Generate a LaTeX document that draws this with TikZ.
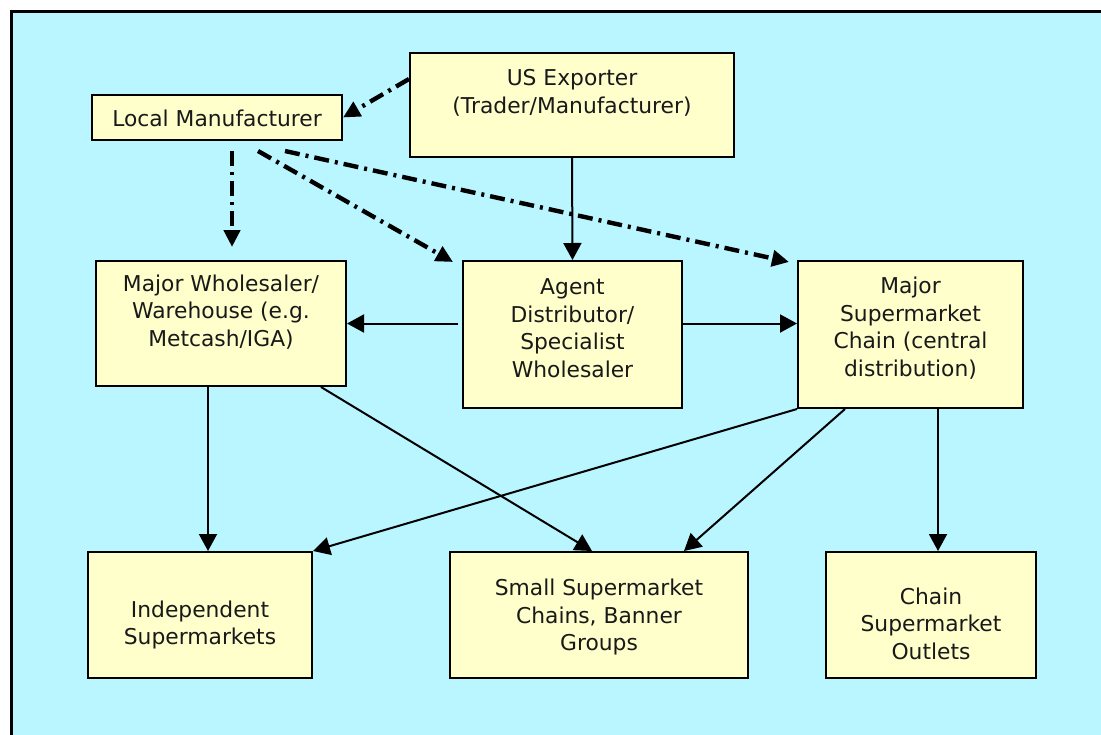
\documentclass[tikz,border=0pt]{standalone}
\usepackage{fontspec}
\setmainfont{DejaVu Sans}
\usetikzlibrary{arrows.meta}
\definecolor{bgcyan}{RGB}{186,246,255}
\definecolor{boxyellow}{RGB}{255,255,204}
\begin{document}
\begin{tikzpicture}[x=0.5pt,y=-0.5pt]

     \tikzstyle{box}=[rectangle,draw=black,line width=1pt,fill=boxyellow,inner sep=0pt]
     \tikzstyle{lbl}=[align=center,inner sep=0pt,text=black!90,font=\fontsize{10.9}{13.75}\selectfont]
     \tikzstyle{solidarrow}=[line width=1pt,-{Triangle[length=8.5pt,width=9pt]}]
     \tikzstyle{dasharrow}=[line width=2.2pt,dash pattern=on 7.5pt off 3pt on 1.5pt off 3pt,-{Triangle[length=8.5pt,width=8pt]}]

      \useasboundingbox (0,0) rectangle (1101,734);
      \clip (0,0) rectangle (1101,734);
      \filldraw[fill=bgcyan,draw=black,line width=1.5pt] (11,11) rectangle (1130,760);

      \begin{scope}
         \node[box,minimum width=162pt,minimum height=52pt] (exp) at (572,105) {};
         \node[box,minimum width=125pt,minimum height=22.5pt] (loc) at (217,117.5) {};

         \node[box,minimum width=125pt,minimum height=62.5pt] (whs) at (221,323.5) {};
         \node[box,minimum width=109.5pt,minimum height=73.5pt] (agt) at (572.5,334.5) {};
         \node[box,minimum width=112.5pt,minimum height=73.5pt] (chn) at (910.5,334.5) {};

         \node[box,minimum width=112pt,minimum height=63pt] (ind) at (200,615) {};
         \node[box,minimum width=149pt,minimum height=63pt] (sml) at (599,615) {};
         \node[box,minimum width=105pt,minimum height=63pt] (out) at (931,615) {};


         \node[lbl] (lexp) at (572,93) {US Exporter\\(Trader/Manufacturer)};
         \node[lbl] (lloc) at (217,118) {Local Manufacturer};
         \node[lbl] (lwhs) at (221,312) {Major Wholesaler/\\Warehouse (e.g.\\Metcash/IGA)};
         \node[lbl] (lagt) at (572.5,328) {Agent\\Distributor/\\Specialist\\Wholesaler};
         \node[lbl] (lchn) at (910.5,328) {Major\\Supermarket\\Chain (central\\distribution)};
         \node[lbl] (lind) at (200,625) {Independent\\Supermarkets};
         \node[lbl] (lsml) at (599,617) {Small Supermarket\\Chains, Banner\\Groups};
         \node[lbl] (lout) at (931,623.5) {Chain\\Supermarket\\Outlets};

         % dash-dot flows from the manufacturers
         \draw[dasharrow] ([yshift=-13.5pt]exp.north west) to (loc.east);
         \draw[dasharrow,shorten >=6.5pt] ([xshift=7.5pt,yshift=-5pt]loc.south) to ([xshift=7.5pt]loc.south |- whs.north);
         \draw[dasharrow] ([xshift=20.5pt,yshift=-5pt]loc.south) to ([xshift=-4.5pt,yshift=-1pt]agt.north west);
         \draw[dasharrow] ([xshift=34pt,yshift=-5pt]loc.south) to ([xshift=-4pt,yshift=-1pt]chn.north west);

         \draw[solidarrow] (exp.south) to (agt.north);
         \draw[solidarrow,shorten <=2pt] (agt.west |- whs.east) to (whs.east);
         \draw[solidarrow] (agt.east |- whs.east) to (chn.west |- whs.east);

         \draw[solidarrow] ([xshift=-6.5pt]whs.south) to ([xshift=-6.5pt]whs.south |- ind.north);
         \draw[solidarrow] ([xshift=-13pt]whs.south east) to ([xshift=-3.5pt]sml.north);
         \draw[solidarrow] (chn.south west) to (ind.north east);
         \draw[solidarrow] ([xshift=24pt]chn.south west) to ([xshift=-32.5pt]sml.north east);
         \draw[solidarrow] ([xshift=13.75pt]chn.south) to ([xshift=13.75pt]chn.south |- out.north);

      \end{scope}
  \end{tikzpicture}
\end{document}
